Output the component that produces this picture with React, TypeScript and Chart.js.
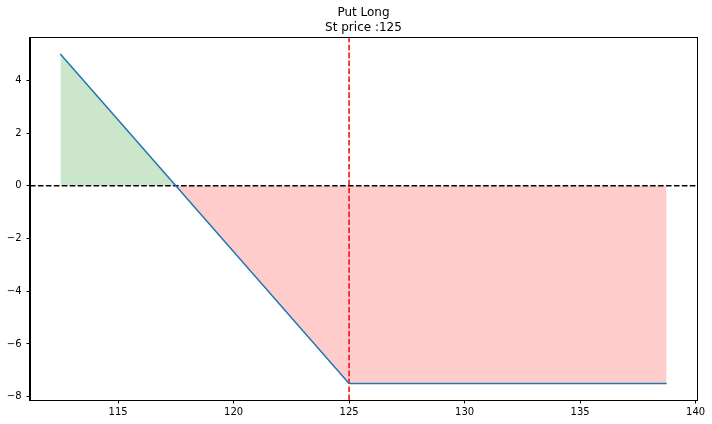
import React, { useEffect, useRef } from 'react';
import { Chart, registerables } from 'chart.js';

Chart.register(...registerables);

const TITLE_LINES = ['Put Long', 'St price :125'];
const spotPrices = [112.5, 117.5, 125, 138.75];
const payoff = [5, 0, -7.5, -7.5];
const strikePrice = 125;
const xTicks = [115, 120, 125, 130, 135, 140];
const yTicks = [-8, -6, -4, -2, 0, 2, 4];
const xRange = [111.1875, 140.0625];
const yRange = [-8.125, 5.625];

const FONT = '"DejaVu Sans", sans-serif';

const framePlugin = {
  id: 'frameAndTitle',
  afterDraw(chart: any) {
    const { ctx, chartArea } = chart;
    ctx.save();
    ctx.strokeStyle = '#000';
    ctx.lineWidth = 1;
    const l = Math.round(chartArea.left) - 0.5;
    const t = Math.round(chartArea.top) - 0.5;
    const r = Math.round(chartArea.right) + 0.5;
    const b = Math.round(chartArea.bottom) + 0.5;
    ctx.strokeRect(l, t, r - l, b - t);
    ctx.fillStyle = '#000';
    ctx.font = `12px ${FONT}`;
    ctx.textAlign = 'center';
    ctx.textBaseline = 'middle';
    const cx = (chartArea.left + chartArea.right) / 2;
    ctx.fillText(TITLE_LINES[0], cx, 13);
    ctx.fillText(TITLE_LINES[1], cx, 27.5);
    ctx.restore();
  },
};

export default function App() {
  const ref = useRef<HTMLCanvasElement>(null);
  useEffect(() => {
    if (!ref.current) return;
    const chart = new Chart(ref.current, {
      type: 'line',
      data: {
        datasets: [
          {
            label: 'payoff',
            data: spotPrices.map((x, i) => ({ x, y: payoff[i] })),
            borderColor: '#1f77b4',
            borderWidth: 1.5,
            pointRadius: 0,
            tension: 0,
            fill: {
              target: { value: 0 },
              above: 'rgba(0,128,0,0.2)',
              below: 'rgba(255,0,0,0.2)',
            },
          } as any,
          {
            label: 'zero',
            data: [
              { x: xRange[0], y: 0 },
              { x: xRange[1], y: 0 },
            ],
            borderColor: '#000',
            borderWidth: 1.5,
            borderDash: [5.55, 2.4],
            pointRadius: 0,
            fill: false,
          },
          {
            label: 'strike',
            data: [
              { x: strikePrice, y: yRange[0] },
              { x: strikePrice, y: yRange[1] },
            ],
            borderColor: '#ff0000',
            borderWidth: 1.5,
            borderDash: [5.55, 2.4],
            pointRadius: 0,
            fill: false,
          },
        ],
      },
      options: {
        animation: false,
        responsive: false,
        devicePixelRatio: 1,
        layout: { padding: { top: 37.5, right: 15, left: 0, bottom: 0 } },
        plugins: {
          legend: { display: false },
          title: { display: false },
          tooltip: { enabled: false },
          filler: { drawTime: 'beforeDatasetsDraw' } as any,
        },
        scales: {
          x: {
            type: 'linear',
            min: xRange[0],
            max: xRange[1],
            afterBuildTicks: (s: any) => {
              s.ticks = xTicks.map((v) => ({ value: v }));
            },
            afterFit: (s: any) => {
              s.height = 24;
            },
            grid: {
              drawOnChartArea: false,
              drawTicks: true,
              tickLength: 3.5,
              color: '#000',
              lineWidth: 1,
            },
            border: { display: true, color: '#000', width: 1 },
            ticks: {
              color: '#000',
              padding: 3,
              maxRotation: 0,
              autoSkip: false,
              font: { family: FONT, size: 10 },
            },
          },
          y: {
            type: 'linear',
            min: yRange[0],
            max: yRange[1],
            afterBuildTicks: (s: any) => {
              s.ticks = yTicks.map((v) => ({ value: v }));
            },
            afterFit: (s: any) => {
              s.width = 30;
            },
            grid: {
              drawOnChartArea: false,
              drawTicks: true,
              tickLength: 3.5,
              color: '#000',
              lineWidth: 1,
            },
            border: { display: true, color: '#000', width: 1 },
            ticks: {
              color: '#000',
              padding: 5,
              autoSkip: false,
              font: { family: FONT, size: 10 },
              callback: (v: any) => (Number(v) < 0 ? '\u2212' + Math.abs(Number(v)) : String(v)),
            },
          },
        },
      },
      plugins: [framePlugin],
    });
    return () => chart.destroy();
  }, []);
  return (
    <div style={{ position: 'fixed', left: 0, top: 0, width: 712, height: 424, background: '#fff' }}>
      <canvas ref={ref} width={712} height={424} />
    </div>
  );
}
